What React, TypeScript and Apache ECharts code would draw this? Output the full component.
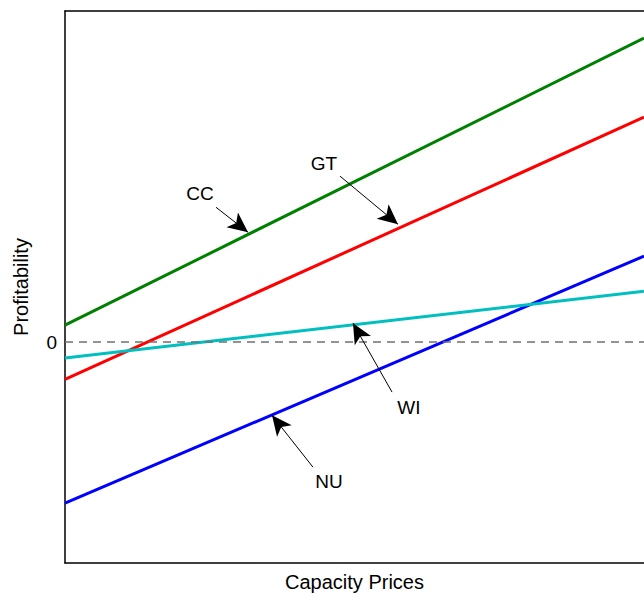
import React, { useEffect, useRef } from "react";
import * as echarts from "echarts";

// x: capacity prices (0..10), y: profitability
const xEnds = [0, 10];
const ccValues = [0.77, 13.77];
const gtValues = [-1.68, 10.19];
const nuValues = [-7.29, 3.9];
const wiValues = [-0.72, 2.31];

const seriesNames = ["CC", "GT", "NU", "WI"];
const seriesColors = ["#008000", "#ff0000", "#0000ff", "#00bfbf"];
const seriesValues = [ccValues, gtValues, nuValues, wiValues];

// annotations: label position, arrow start, arrow tip (data coords)
const labelNames = ["CC", "GT", "WI", "NU"];
const labelPos = [
  [2.332, 6.75],
  [4.473, 8.11],
  [5.941, -2.94],
  [4.56, -6.3],
];
const arrowStart = [
  [2.608, 6.11],
  [4.75, 7.52],
  [5.648, -2.26],
  [4.283, -5.66],
];
const arrowTip = [
  [3.161, 4.98],
  [5.751, 5.34],
  [4.974, 0.86],
  [3.575, -3.31],
];

const FONT = "Liberation Sans, Arial, sans-serif";

export default function App() {
  const ref = useRef<HTMLDivElement>(null);
  useEffect(() => {
    if (!ref.current) return;
    const chart = echarts.init(ref.current, null, { renderer: "svg" });
    const lineSeries = seriesNames.map((name, i) => ({
      name,
      type: "line",
      data: xEnds.map((x, j) => [x, seriesValues[i][j]]),
      showSymbol: false,
      symbol: "none",
      lineStyle: { color: seriesColors[i], width: 3 },
      z: 3,
    }));
    chart.setOption({
      animation: false,
      grid: {
        left: 65,
        top: 11,
        right: 0,
        bottom: 32,
        containLabel: false,
        outerBoundsMode: "none",
      },
      xAxis: [
        {
          type: "value",
          min: 0,
          max: 10,
          position: "bottom",
          name: "Capacity Prices",
          nameLocation: "middle",
          nameGap: 9,
          nameTextStyle: { fontFamily: FONT, fontSize: 20, color: "#000" },
          axisLine: {
            show: true,
            onZero: false,
            lineStyle: { color: "#000", width: 1.5 },
          },
          axisTick: { show: false },
          axisLabel: { show: false },
          splitLine: { show: false },
        },
        {
          type: "value",
          min: 0,
          max: 10,
          position: "top",
          axisLine: {
            show: true,
            onZero: false,
            lineStyle: { color: "#000", width: 1.5 },
          },
          axisTick: { show: false },
          axisLabel: { show: false },
          splitLine: { show: false },
        },
      ],
      yAxis: {
        type: "value",
        min: -10,
        max: 15,
        interval: 5,
        name: "Profitability",
        nameLocation: "middle",
        nameGap: 34,
        nameTextStyle: { fontFamily: FONT, fontSize: 20, color: "#000" },
        axisLine: {
          show: true,
          onZero: false,
          lineStyle: { color: "#000", width: 1.5 },
        },
        axisTick: { show: false },
        axisLabel: {
          formatter: (v: number) => (v === 0 ? "0" : ""),
          fontFamily: FONT,
          fontSize: 19,
          color: "#000",
          margin: 8,
        },
        splitLine: { show: false },
      },
      series: [
        {
          type: "line",
          data: [],
          markLine: {
            silent: true,
            symbol: ["none", "none"],
            label: { show: false },
            lineStyle: { color: "#707070", type: [8, 6], width: 1.5 },
            data: [{ yAxis: 0 }],
          },
          z: 1,
        },
        ...lineSeries,
        {
          type: "line",
          data: [],
          z: 5,
          markLine: {
            silent: true,
            symbol: ["none", "arrow"],
            symbolSize: [14, 20],
            label: { show: false },
            lineStyle: { color: "#000", type: "solid", width: 1 },
            itemStyle: { color: "#000" },
            data: arrowStart.map((s, i) => [
              { coord: s },
              { coord: arrowTip[i] },
            ]),
          },
          markPoint: {
            silent: true,
            symbol: "circle",
            symbolSize: 0,
            label: {
              show: true,
              position: "inside",
              formatter: "{b}",
              fontFamily: FONT,
              fontSize: 19,
              color: "#000",
            },
            data: labelNames.map((n, i) => ({ name: n, coord: labelPos[i] })),
          },
        },
      ],
    });
    return () => chart.dispose();
  }, []);
  return (
    <div
      ref={ref}
      style={{ position: "absolute", left: 0, top: 0, width: 644, height: 595 }}
    />
  );
}
